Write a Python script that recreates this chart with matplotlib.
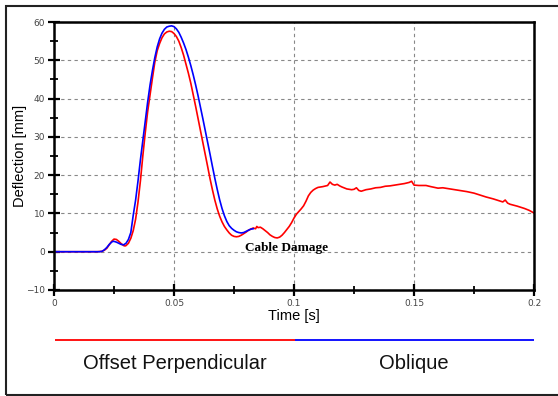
import matplotlib
matplotlib.use("Agg")
import matplotlib.pyplot as plt
from matplotlib.patches import Rectangle
from matplotlib.ticker import MultipleLocator

# Offset Perpendicular (red), time [s] / deflection [mm]
t_offset = [0.0, 0.010, 0.018, 0.020, 0.021, 0.022, 0.023, 0.024, 0.025, 0.026,
            0.027, 0.028, 0.029, 0.0296, 0.030, 0.031, 0.032, 0.033, 0.034, 0.035,
            0.036, 0.037, 0.038, 0.039, 0.040, 0.041, 0.042, 0.043, 0.044, 0.045,
            0.046, 0.047, 0.048, 0.049, 0.050, 0.051, 0.052, 0.053, 0.054, 0.055,
            0.056, 0.057, 0.058, 0.059, 0.060, 0.061, 0.062, 0.063, 0.064, 0.065,
            0.066, 0.067, 0.068, 0.069, 0.070, 0.071, 0.072, 0.073, 0.074, 0.075,
            0.076, 0.077, 0.078, 0.079, 0.080, 0.081, 0.082, 0.083, 0.084, 0.0845,
            0.085, 0.086, 0.087, 0.088, 0.089, 0.090, 0.091, 0.092, 0.093, 0.094,
            0.095, 0.096, 0.097, 0.098, 0.099, 0.100, 0.101, 0.102, 0.103, 0.104,
            0.105, 0.106, 0.107, 0.108, 0.109, 0.110, 0.112, 0.114, 0.115, 0.116,
            0.117, 0.118, 0.119, 0.120, 0.122, 0.124, 0.125, 0.126, 0.127, 0.128,
            0.130, 0.132, 0.134, 0.136, 0.138, 0.140, 0.142, 0.144, 0.146, 0.148,
            0.149, 0.150, 0.152, 0.155, 0.157, 0.160, 0.162, 0.165, 0.168, 0.170,
            0.172, 0.175, 0.178, 0.180, 0.183, 0.186, 0.187, 0.188, 0.189, 0.190,
            0.193, 0.196, 0.198, 0.200]
d_offset = [0.0, 0.0, 0.0, 0.1, 0.4, 0.9, 1.8, 2.7, 3.3, 3.2,
            2.7, 2.1, 1.6, 1.5, 1.6, 2.2, 3.5, 5.5, 8.5, 13.0,
            18.5, 25.0, 31.0, 36.5, 41.0, 45.3, 49.5, 52.5, 54.4, 55.9,
            56.9, 57.4, 57.6, 57.5, 57.0, 56.2, 55.0, 53.3, 51.3, 49.0,
            46.6, 44.0, 41.0, 38.0, 34.8, 31.7, 28.6, 25.5, 22.3, 19.1,
            16.2, 13.5, 11.2, 9.3, 7.8, 6.6, 5.7, 4.9, 4.3, 4.0,
            3.9, 4.0, 4.3, 4.7, 5.1, 5.6, 5.9, 6.2, 6.0, 6.6,
            6.3, 6.4, 6.0, 5.5, 5.0, 4.4, 4.0, 3.7, 3.6, 3.8,
            4.3, 5.0, 5.8, 6.6, 7.6, 8.8, 9.8, 10.5, 11.2, 12.0,
            13.2, 14.6, 15.5, 16.1, 16.5, 16.8, 17.0, 17.3, 18.2, 17.6,
            17.4, 17.6, 17.2, 16.9, 16.4, 16.2, 16.3, 16.7, 16.0, 15.8,
            16.2, 16.4, 16.7, 16.8, 17.1, 17.2, 17.4, 17.6, 17.8, 18.1,
            18.4, 17.4, 17.3, 17.3, 17.0, 16.6, 16.7, 16.4, 16.1, 15.9,
            15.7, 15.3, 14.7, 14.3, 13.8, 13.2, 13.0, 13.5, 12.7, 12.4,
            11.9, 11.3, 10.8, 10.1]

# Oblique (blue)
t_oblique = [0.0, 0.010, 0.019, 0.020, 0.021, 0.022, 0.023, 0.024, 0.0245, 0.025,
             0.026, 0.027, 0.028, 0.029, 0.030, 0.031, 0.032, 0.033, 0.034, 0.035,
             0.036, 0.037, 0.038, 0.039, 0.040, 0.041, 0.042, 0.043, 0.044, 0.045,
             0.046, 0.047, 0.048, 0.049, 0.050, 0.051, 0.052, 0.053, 0.054, 0.055,
             0.056, 0.057, 0.058, 0.059, 0.060, 0.061, 0.062, 0.063, 0.064, 0.065,
             0.066, 0.067, 0.068, 0.069, 0.070, 0.071, 0.072, 0.073, 0.074, 0.075,
             0.076, 0.077, 0.078, 0.079, 0.080, 0.081, 0.082, 0.083]
d_oblique = [0.0, 0.0, 0.0, 0.1, 0.5, 1.1, 1.9, 2.5, 2.7, 2.7,
             2.5, 2.2, 1.9, 1.8, 2.2, 3.2, 5.0, 9.5, 13.5, 18.5,
             24.0, 29.0, 34.0, 39.0, 43.5, 47.3, 50.7, 53.5, 55.6, 57.1,
             58.1, 58.7, 58.9, 59.0, 58.8, 58.2, 57.3, 56.0, 54.5, 52.8,
             50.8, 48.6, 46.2, 43.6, 40.8, 37.8, 34.8, 31.7, 28.6, 25.5,
             22.3, 19.2, 16.3, 13.6, 11.3, 9.4, 7.9, 6.8, 6.1, 5.6,
             5.2, 5.0, 4.9, 5.0, 5.3, 5.6, 5.9, 6.0]

series_labels = ["Offset Perpendicular", "Oblique"]
series_colors = ["red", "blue"]

fig = plt.figure(figsize=(5.58, 3.96), dpi=100)
ax = fig.add_axes([0.0968, 0.2677, 0.8602, 0.6767])

ax.plot(t_offset, d_offset, color=series_colors[0], lw=1.2)
ax.plot(t_oblique, d_oblique, color=series_colors[1], lw=1.2)

ax.set_xlim(0, 0.2)
ax.set_ylim(-10, 60)
ax.xaxis.set_minor_locator(MultipleLocator(0.025))
ax.yaxis.set_major_locator(MultipleLocator(10))
ax.yaxis.set_minor_locator(MultipleLocator(5))
ax.set_xticks([0, 0.05, 0.1, 0.15, 0.2])
ax.set_xticklabels(["0", "0.05", "0.1", "0.15", "0.2"])
ax.grid(True, which="major", color="#888888", ls=(0, (3, 3)), lw=0.8)

for s in ax.spines.values():
    s.set_linewidth(1.8)
ax.tick_params(which="major", direction="inout", length=9, width=1.6,
               labelsize=6.5, labelcolor="#444444", pad=2)
ax.tick_params(which="minor", direction="inout", length=6, width=1.3)

ax.set_xlabel("Time [s]", fontsize=10.5, family="Liberation Sans")
ax.set_ylabel("Deflection [mm]", fontsize=10.5, family="Liberation Sans")
ax.xaxis.set_label_coords(0.5, -0.072)
ax.yaxis.set_label_coords(-0.056, 0.5)

ax.text(0.0796, 0.1, "Cable Damage", family="Liberation Serif",
        fontweight="bold", fontsize=9.5, va="baseline", ha="left")

# legend strip under the plot: two halves, red then blue
leg = fig.add_axes([55 / 558, 0.05, (534 - 55) / 558, 0.12])
leg.set_xlim(0, 2)
leg.set_ylim(0, 1)
leg.axis("off")
for i, (lab, col) in enumerate(zip(series_labels, series_colors)):
    leg.plot([i, i + 1], [0.76, 0.76], color=col, lw=1.3, solid_capstyle="butt")
    leg.text(i + 0.5, 0.26, lab, ha="center", va="center",
             fontsize=14.5, family="Liberation Sans", color="#111111")

fig.add_artist(Rectangle((6 / 558, 1 / 396), 1.0, 389 / 396,
                         transform=fig.transFigure, fill=False,
                         edgecolor="#222222", lw=1.5))

fig.savefig("out.png", dpi=100)
